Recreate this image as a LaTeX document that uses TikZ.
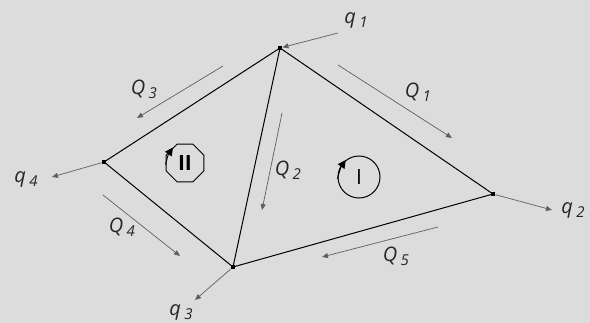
\documentclass[tikz,border=0pt]{standalone}
\usepackage{fontspec}
\setmainfont{Open Sans}
\usetikzlibrary{arrows.meta,shapes.geometric}
\definecolor{bgc}{RGB}{220,220,220}
\definecolor{flowc}{RGB}{95,95,95}
\newcommand\flowlab[2]{\itshape #1\,\raisebox{-0.4ex}{\fontsize{15}{15}\selectfont #2}}
\tikzset{
  dot/.style={rectangle,fill=black,minimum size=4.5pt,inner sep=0pt},
  edge/.style={draw=black,line width=1pt},
  flow/.style={draw=flowc,line width=0.7pt,-{Triangle[length=6pt,width=5pt]}},
  lab/.style={text=black!85,font=\fontsize{20}{20}\selectfont,inner sep=0pt},
  loopc/.style={draw=black,line width=1pt,font=\fontsize{21}{21}\selectfont,inner sep=0pt},
  looparr/.style={draw=black,line width=1pt,-{Triangle[length=8pt,width=8pt]}}
}
\begin{document}
\begin{tikzpicture}[x=1pt,y=-1pt]
\fill[bgc] (0,0) rectangle (590,323);
\useasboundingbox (0,0) rectangle (590,323);
% junctions
\node[dot] (n1) at (280,48) {};
\node[dot] (n2) at (493,194) {};
\node[dot] (n3) at (233,267) {};
\node[dot] (n4) at (104,162) {};
% pipes
\draw[edge] (n1.center) -- (n2.center);
\draw[edge] (n1.center) -- (n4.center);
\draw[edge] (n1.center) -- (n3.center);
\draw[edge] (n2.center) -- (n3.center);
\draw[edge] (n4.center) -- (n3.center);
% external flows
\coordinate (q1s) at (338,33);
\coordinate (q2e) at (552,210);
\coordinate (q3e) at (195,300);
\coordinate (q4e) at (52,177);
\draw[flow] (q1s) -- (n1);
\draw[flow] (n2) -- (q2e);
\draw[flow] (n3) -- (q3e);
\draw[flow] (n4) -- (q4e);
\node[lab] (lq1) at (356,20) {\flowlab{q}{1}};
\node[lab] (lq2) at (573,210) {\flowlab{q}{2}};
\node[lab] (lq3) at (181,312) {\flowlab{q}{3}};
\node[lab] (lq4) at (26,179) {\flowlab{q}{4}};
% internal flows
\coordinate (Q1s) at (338,65); \coordinate (Q1e) at (452,138);
\coordinate (Q2s) at (282,113); \coordinate (Q2e) at (262,210);
\coordinate (Q3s) at (223,66); \coordinate (Q3e) at (137,118);
\coordinate (Q4s) at (103,195); \coordinate (Q4e) at (180,256);
\coordinate (Q5s) at (438,227); \coordinate (Q5e) at (322,257);
\draw[flow] (Q1s) -- (Q1e);
\draw[flow] (Q2s) -- (Q2e);
\draw[flow] (Q3s) -- (Q3e);
\draw[flow] (Q4s) -- (Q4e);
\draw[flow] (Q5s) -- (Q5e);
\node[lab] (lQ1) at (418,92) {\flowlab{Q}{1}};
\node[lab] (lQ2) at (288,170) {\flowlab{Q}{2}};
\node[lab] (lQ3) at (144,89) {\flowlab{Q}{3}};
\node[lab] (lQ4) at (122,227) {\flowlab{Q}{4}};
\node[lab] (lQ5) at (396,256) {\flowlab{Q}{5}};
% loops
\node[loopc,regular polygon,regular polygon sides=8,minimum size=41pt,font=\fontsize{21}{21}\selectfont\bfseries] (L2) at (185,163) {II};
\node[loopc,circle,minimum size=42pt] (L1) at (359,177) {I};
\draw[looparr] (L2.185) to[bend left=12] (L2.128);
\draw[looparr] (L1.185) to[bend left=12] (L1.128);
\end{tikzpicture}
\end{document}
